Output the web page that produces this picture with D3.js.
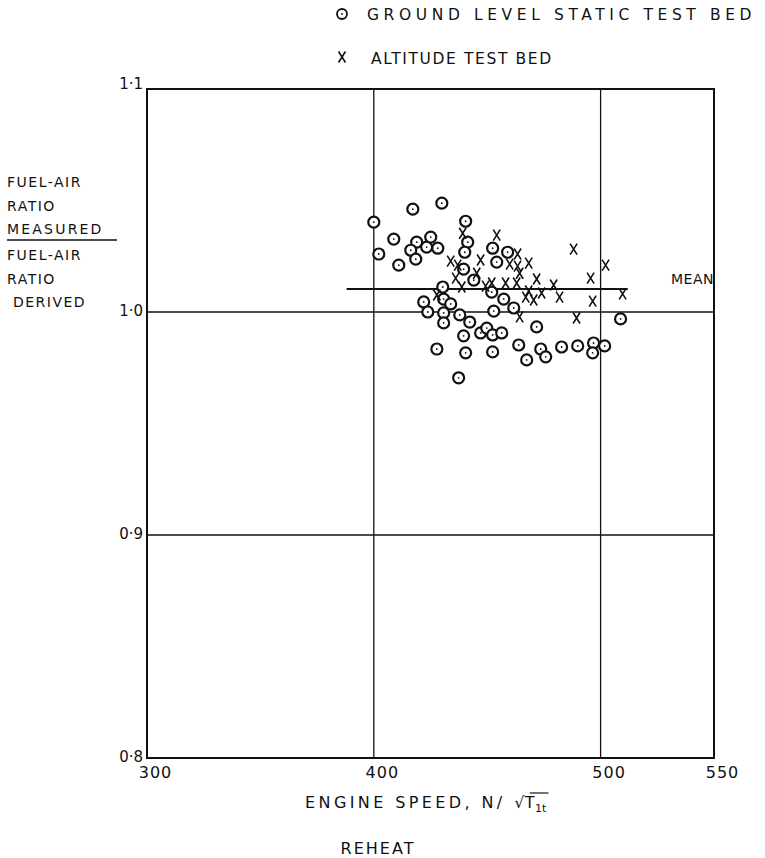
<!DOCTYPE html>
<html>
<head>
<meta charset="utf-8">
<script src="https://cdn.jsdelivr.net/npm/d3@7"></script>
<style>
  body { margin: 0; background: #fff; }
  svg text { font-family: "DejaVu Sans", sans-serif; fill: #111; }
</style>
</head>
<body>
<div id="chart"></div>
<script>
// Ground level static test bed (circles): [engine speed, ratio]
const groundLevel = [
  [400.0, 1.0403], [402.2, 1.0260], [408.8, 1.0327], [411.0, 1.0210], [417.2, 1.0461],
  [418.9, 1.0313], [416.3, 1.0277], [418.5, 1.0237], [423.3, 1.0291], [425.1, 1.0336],
  [428.2, 1.0286], [430.0, 1.0488], [440.5, 1.0407], [441.4, 1.0313], [440.1, 1.0268],
  [439.6, 1.0192], [444.1, 1.0143], [430.4, 1.0112], [422.0, 1.0045], [430.8, 1.0058],
  [433.9, 1.0036], [423.8, 1.0000], [430.8, 0.9996], [437.9, 0.9987], [430.8, 0.9951],
  [442.3, 0.9955], [439.6, 0.9893], [447.1, 0.9906], [449.8, 0.9928], [427.8, 0.9834],
  [440.5, 0.9817], [437.4, 0.9705], [452.4, 1.0286], [459.0, 1.0268], [454.2, 1.0224],
  [452.0, 1.0089], [457.3, 1.0058], [452.9, 1.0004], [461.7, 1.0018], [452.4, 0.9897],
  [456.4, 0.9906], [471.8, 0.9933], [463.9, 0.9852], [452.4, 0.9821], [473.6, 0.9834],
  [467.4, 0.9785], [475.8, 0.9799], [482.8, 0.9843], [489.9, 0.9848], [496.9, 0.9861],
  [496.5, 0.9817], [501.8, 0.9848], [508.8, 0.9969]
];

// Altitude test bed (crosses)
const altitude = [
  [439.2, 1.0353], [433.9, 1.0228], [437.0, 1.0210], [447.1, 1.0233], [436.1, 1.0152],
  [445.4, 1.0174], [438.8, 1.0112], [427.8, 1.0076], [454.2, 1.0345], [463.4, 1.0260],
  [459.9, 1.0215], [463.4, 1.0206], [468.3, 1.0219], [464.3, 1.0174], [488.1, 1.0282],
  [502.2, 1.0210], [495.6, 1.0152], [471.8, 1.0148], [452.0, 1.0130], [458.1, 1.0130],
  [463.0, 1.0130], [479.3, 1.0121], [449.3, 1.0116], [468.3, 1.0094], [467.0, 1.0067],
  [470.5, 1.0054], [474.0, 1.0085], [481.9, 1.0067], [496.5, 1.0049], [509.7, 1.0081],
  [464.3, 0.9978], [489.4, 0.9973]
];

const meanValue = 1.0103;
const meanRange = [388, 512];

const xTicks = [300, 400, 500, 550];
const xGrid = [400, 500];
const yTicks = [0.8, 0.9, 1.0, 1.1];
const yGrid = [0.9, 1.0];
const yLabelLines = ['FUEL-AIR', 'RATIO', 'MEASURED', 'FUEL-AIR', 'RATIO', ' DERIVED'];

const width = 765, height = 858;
const plot = { left: 147, right: 714, top: 89, bottom: 758 };

const svg = d3.select('#chart').append('svg')
  .attr('width', width)
  .attr('height', height);

const x = d3.scaleLinear().domain([300, 550]).range([plot.left, plot.right]);
const y = d3.scaleLinear().domain([0.8, 1.1]).range([plot.bottom, plot.top]);

// grid lines
svg.append('g').selectAll('line').data(xGrid).join('line')
  .attr('x1', d => x(d)).attr('x2', d => x(d))
  .attr('y1', plot.top).attr('y2', plot.bottom)
  .attr('stroke', '#111').attr('stroke-width', 1.3);

svg.append('g').selectAll('line').data(yGrid).join('line')
  .attr('x1', plot.left).attr('x2', plot.right)
  .attr('y1', d => y(d)).attr('y2', d => y(d))
  .attr('stroke', '#111').attr('stroke-width', 1.3);

// frame
svg.append('rect')
  .attr('x', plot.left).attr('y', plot.top)
  .attr('width', plot.right - plot.left).attr('height', plot.bottom - plot.top)
  .attr('fill', 'none').attr('stroke', '#111').attr('stroke-width', 2);

// mean line
svg.append('line')
  .attr('x1', x(meanRange[0])).attr('x2', x(meanRange[1]))
  .attr('y1', y(meanValue)).attr('y2', y(meanValue))
  .attr('stroke', '#111').attr('stroke-width', 2);
svg.append('text')
  .attr('x', 671).attr('y', y(meanValue) - 5)
  .attr('font-size', 14).attr('letter-spacing', 0.5).text('MEAN');

// axis labels
const fmt = d => d3.format('.1f')(d).replace('.', '·');
const xAxis = d3.axisBottom(x).tickValues(xTicks).tickSize(0).tickPadding(9)
  .tickFormat(d => d);
const gx = svg.append('g').attr('transform', `translate(8,${plot.bottom})`).call(xAxis);
gx.select('.domain').remove();
gx.selectAll('text').attr('font-size', 16).attr('fill', '#111')
  .attr('letter-spacing', 1)
  .style('font-family', '"DejaVu Sans", sans-serif');

const yAxis = d3.axisLeft(y).tickValues(yTicks).tickSize(0).tickPadding(4).tickFormat(fmt);
const gy = svg.append('g').attr('transform', `translate(${plot.left},0)`).call(yAxis);
gy.select('.domain').remove();
gy.selectAll('text').attr('font-size', 15).attr('fill', '#111')
  .style('font-family', '"DejaVu Sans", sans-serif')
  .attr('dy', d => d === 1.1 ? '-0.05em' : '0.2em');

// points: circles
const gc = svg.append('g');
gc.selectAll('circle.o').data(groundLevel).join('circle')
  .attr('class', 'o')
  .attr('cx', d => x(d[0])).attr('cy', d => y(d[1])).attr('r', 5.5)
  .attr('fill', '#fff').attr('stroke', '#111').attr('stroke-width', 2.2);
gc.selectAll('circle.dot').data(groundLevel).join('circle')
  .attr('class', 'dot')
  .attr('cx', d => x(d[0])).attr('cy', d => y(d[1])).attr('r', 0.9)
  .attr('fill', '#111');

// points: crosses
const cross = (cx, cy) => `M${cx - 3.5},${cy - 5.5}L${cx + 3.5},${cy + 5.5}M${cx + 3.5},${cy - 5.5}L${cx - 3.5},${cy + 5.5}`;
svg.append('g').selectAll('path').data(altitude).join('path')
  .attr('d', d => cross(x(d[0]), y(d[1])))
  .attr('stroke', '#111').attr('stroke-width', 1.6).attr('fill', 'none');

// legend
const legend = svg.append('g');
legend.append('circle').attr('cx', 342).attr('cy', 14).attr('r', 5)
  .attr('fill', '#fff').attr('stroke', '#111').attr('stroke-width', 1.8);
legend.append('circle').attr('cx', 342).attr('cy', 14).attr('r', 0.9).attr('fill', '#111');
legend.append('text').attr('x', 367).attr('y', 20).attr('font-size', 15.5)
  .attr('letter-spacing', 4.6).text('GROUND LEVEL STATIC TEST BED');
legend.append('path').attr('d', cross(342, 57))
  .attr('stroke', '#111').attr('stroke-width', 1.6);
legend.append('text').attr('x', 371).attr('y', 64).attr('font-size', 15.5)
  .attr('letter-spacing', 1.6).text('ALTITUDE TEST BED');

// y label block
const yl = svg.append('g');
const yPos = [187, 211, 234, 260, 284, 307];
yl.selectAll('text').data(yLabelLines).join('text')
  .attr('x', 7).attr('y', (d, i) => yPos[i])
  .attr('font-size', 14).attr('letter-spacing', (d, i) => i === 2 ? 2.2 : 1.5)
  .attr('xml:space', 'preserve')
  .text(d => d);
yl.append('line').attr('x1', 7).attr('x2', 117).attr('y1', 240).attr('y2', 240)
  .attr('stroke', '#111').attr('stroke-width', 1.6);

// x title, with overline on the root
const xt = svg.append('text').attr('x', 305).attr('y', 808).attr('font-size', 16)
  .attr('letter-spacing', 3.4);
xt.append('tspan').text('ENGINE SPEED, N/ ');
xt.append('tspan').text('√T').attr('letter-spacing', 0.5);
xt.append('tspan').text('1t').attr('font-size', 11).attr('dy', 4).attr('letter-spacing', 0);
const n = xt.node();
const total = n.getNumberOfChars();
const rootStart = n.getStartPositionOfChar(total - 3).x;
const subEnd = n.getEndPositionOfChar(total - 1).x;
svg.append('line').attr('x1', rootStart + 5).attr('x2', subEnd + 2).attr('y1', 793).attr('y2', 793)
  .attr('stroke', '#111').attr('stroke-width', 1.2);

svg.append('text').attr('x', 378).attr('y', 854).attr('text-anchor', 'middle')
  .attr('font-size', 16).attr('letter-spacing', 2).text('REHEAT');
</script>
</body>
</html>
